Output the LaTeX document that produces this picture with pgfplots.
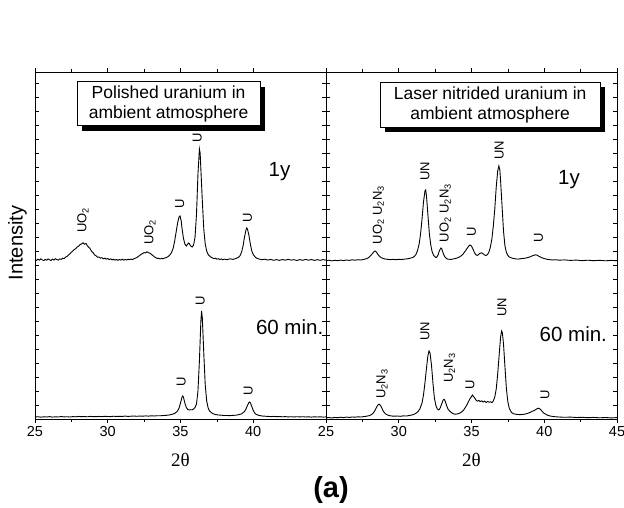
\documentclass[border=0pt]{standalone}
\usepackage{fontspec}
\setmainfont{Liberation Sans}
\newfontfamily\greekserif{Liberation Serif}
\usepackage{pgfplots}
\pgfplotsset{compat=1.18}
\usetikzlibrary{shadows}

\pgfplotsset{
  xrdaxis/.style={
    scale only axis, width=291pt, height=347pt, anchor=south west,
    xmin=25, xmax=45, ymin=0, ymax=347,
    minor x tick num=1,
    ytick={0,14,...,346}, yticklabels={},
    xtick align=outside, ytick align=inside,
    major tick length=4pt, minor tick length=2.5pt,
    axis line style={line width=0.9pt},
    every tick/.style={black, line width=0.7pt},
    /pgf/number format/assume math mode=true,
    xticklabel style={font=\fontsize{14.5}{16}\selectfont},
    xlabel={\greekserif 2θ},
    xlabel style={font=\fontsize{19}{21}\selectfont, at={(axis description cs:0.5,0)}, anchor=center, yshift=-41pt},
    clip=false,
  },
  curve/.style={black, line width=0.9pt, no marks},
}
\tikzset{
  pk/.style={rotate=90, font=\fontsize{13}{15}\selectfont, inner sep=0pt},
  big/.style={font=\fontsize{20.5}{22}\selectfont, inner sep=0pt},
  box/.style={draw=black, fill=white, line width=0.9pt, align=center, inner sep=0pt,
    font=\fontsize{17.5}{20}\selectfont,
    drop shadow={shadow xshift=5pt, shadow yshift=-5pt, fill=black, opacity=1}},
}

\begin{document}
\begin{tikzpicture}
\path[use as bounding box] (0,0) rectangle (624pt,507pt);

% ---------------- Left panel: polished uranium ----------------
\begin{axis}[xrdaxis, at={(35pt,88pt)}, xtick={25,30,35,40}]
% 60 min
\addplot[curve] coordinates {
(25,2.0)(25.2,2.3)(25.4,1.8)(25.6,2.2)(25.8,2.0)(26,2.4)(26.2,1.9)(26.4,2.2)(26.6,2.0)(26.8,2.5)
(27,2.1)(27.2,2.3)(27.4,2.0)(27.6,2.4)(27.8,2.2)(28,2.6)(28.2,2.3)(28.4,2.5)(28.6,2.2)(28.8,2.6)
(29,2.4)(29.2,2.3)(29.4,2.6)(29.6,2.4)(29.8,2.7)(30,2.5)(30.2,2.4)(30.4,2.8)(30.6,2.5)(30.8,2.7)
(31,2.6)(31.2,2.9)(31.4,2.6)(31.6,2.8)(31.8,3.0)(32,2.7)(32.2,3.0)(32.4,2.8)(32.6,3.1)(32.8,2.9)
(33,3.2)(33.2,3.0)(33.4,3.3)(33.6,3.2)(33.8,3.5)(34,3.6)(34.2,4.0)(34.4,4.6)(34.6,5.5)(34.8,8)
(34.9,11)(35,16)(35.1,21.5)(35.15,23)(35.2,22)(35.3,16)(35.4,11.5)(35.5,9.5)(35.6,9)(35.7,9.3)
(35.8,9.2)(35.9,10)(36,11.5)(36.1,15)(36.2,28)(36.3,58)(36.4,98)(36.45,108)(36.5,101)(36.6,66)
(36.7,34)(36.8,18)(36.9,11)(37,8)(37.2,5.5)(37.4,4.5)(37.6,4)(37.8,3.8)(38,3.5)(38.2,3.5)
(38.4,3.4)(38.6,3.6)(38.8,3.8)(39,4.3)(39.2,5.2)(39.4,7.5)(39.5,10)(39.6,13.5)(39.7,16.5)(39.75,17)
(39.8,16.3)(39.9,12.5)(40,8.5)(40.1,6)(40.2,4.6)(40.4,3.6)(40.6,3)(40.8,2.8)(41,2.6)(41.2,2.4)
(41.4,2.6)(41.6,2.3)(41.8,2.5)(42,2.2)(42.2,2.4)(42.4,2.1)(42.6,2.3)(42.8,2.0)(43,2.3)(43.2,2.1)
(43.4,2.3)(43.6,2.0)(43.8,2.2)(44,1.9)(44.2,2.2)(44.4,2.0)(44.6,2.2)(44.8,1.9)(45,2.1)
};
% 1 year
\addplot[curve] coordinates {
(25,159.5)(25.1,158.6)(25.2,159.8)(25.3,158.9)(25.4,160.2)(25.5,159.1)(25.6,158.4)(25.7,159.6)(25.8,158.8)(25.9,160.0)
(26.0,159.2)(26.1,158.5)(26.2,159.9)(26.3,159.0)(26.4,160.3)(26.5,159.4)(26.6,158.9)(26.7,160.1)(26.8,159.6)(26.9,160.8)
(27.0,160.4)(27.1,161.8)(27.2,162.5)(27.3,164.0)(27.4,165.2)(27.5,166.8)(27.6,168.0)(27.7,169.5)(27.8,170.3)(27.9,172.0)
(28.0,172.8)(28.1,174.5)(28.2,175.0)(28.3,176.3)(28.4,174.8)(28.5,175.6)(28.6,173.2)(28.7,171.8)(28.8,170.0)(28.9,167.5)
(29.0,166.2)(29.1,164.0)(29.2,163.2)(29.3,161.8)(29.4,162.0)(29.5,160.8)(29.6,161.3)(29.7,160.2)(29.8,160.9)(29.9,159.8)
(30.0,160.5)(30.1,159.4)(30.2,160.2)(30.3,159.1)(30.4,159.8)(30.5,158.8)(30.6,159.6)(30.7,158.7)(30.8,159.5)(30.9,158.9)
(31.0,159.9)(31.1,158.8)(31.2,159.6)(31.3,159.0)(31.4,159.8)(31.5,159.3)(31.6,160.0)(31.7,159.4)(31.8,160.3)(31.9,160.8)
(32.0,161.5)(32.1,162.6)(32.2,163.5)(32.3,164.8)(32.4,165.5)(32.5,166.4)(32.6,166.0)(32.7,167.2)(32.8,166.3)(32.9,165.8)
(33.0,164.6)(33.1,163.5)(33.2,162.2)(33.3,161.4)(33.4,160.5)(33.5,160.8)(33.6,160.0)(33.7,160.6)(33.8,160.2)(33.9,161.0)
(34.0,161.3)(34.1,162.0)(34.2,163.0)(34.3,164.5)(34.4,167)(34.5,171)(34.6,178)(34.7,187)(34.8,196)(34.9,202)
(34.97,203)(35.05,198)(35.1,191)(35.2,181)(35.3,175)(35.4,173)(35.5,175)(35.55,176)(35.6,175.5)(35.7,173)
(35.8,172)(35.9,174)(36.0,182)(36.1,205)(36.2,245)(36.3,270)(36.35,266)(36.4,250)(36.5,218)(36.6,190)
(36.7,175)(36.8,168)(36.9,164.5)(37.0,163)(37.1,161.8)(37.2,161.0)(37.3,160.4)(37.4,160.8)(37.5,159.9)(37.6,160.3)
(37.7,159.5)(37.8,160.1)(37.9,159.2)(38.0,159.9)(38.2,159.3)(38.4,160.2)(38.6,159.6)(38.8,160.5)(39.0,161.8)(39.1,163.5)
(39.2,167)(39.3,173)(39.4,182)(39.5,189)(39.55,191)(39.6,190)(39.7,184)(39.8,175)(39.9,168)(40.0,164.5)
(40.1,162.5)(40.2,161.2)(40.3,160.4)(40.4,160.0)(40.6,159.3)(40.8,159.8)(41.0,158.9)(41.2,159.6)(41.4,158.7)(41.6,159.4)
(41.8,158.6)(42.0,159.5)(42.2,158.8)(42.4,159.7)(42.6,158.9)(42.8,159.3)(43.0,158.5)(43.2,159.4)(43.4,158.7)(43.6,159.6)
(43.8,158.8)(44.0,159.5)(44.2,158.6)(44.4,159.3)(44.6,158.7)(44.8,159.4)(45.0,158.9)
};
% annotations
\node[rotate=90, font=\fontsize{20}{22}\selectfont, inner sep=0pt] at (rel axis cs:-0.0601,0.507) {Intensity};
\node[box, minimum width=183pt, minimum height=44pt] at (rel axis cs:0.459,0.908) {Polished uranium in\\ambient atmosphere};
\node[pk] at (axis cs:28.3,199) {UO\textsubscript{2}};
\node[pk] at (axis cs:32.9,187) {UO\textsubscript{2}};
\node[pk] at (axis cs:34.95,215) {U};
\node[pk] at (axis cs:36.15,281) {U};
\node[pk] at (axis cs:39.6,201) {U};
\node[pk] at (axis cs:35.05,37) {U};
\node[pk] at (axis cs:36.35,118) {U};
\node[pk] at (axis cs:39.65,28) {U};
\node[big] at (axis cs:41.8,247) {1y};
\node[big] at (axis cs:42.5,92) {60 min.};
\end{axis}

% ---------------- Right panel: laser nitrided uranium ----------------
\begin{axis}[xrdaxis, at={(326pt,88pt)}, xtick={25,30,35,40,45}]
% 60 min
\addplot[curve] coordinates {
(25,1.2)(25.2,1.5)(25.4,1.0)(25.6,1.6)(25.8,1.3)(26.0,1.8)(26.2,1.4)(26.4,1.9)(26.6,1.6)(26.8,2.0)
(27.0,1.8)(27.2,2.2)(27.4,2.0)(27.6,2.4)(27.8,2.8)(28.0,3.5)(28.1,4.2)(28.2,5.3)(28.3,7)(28.4,9.5)
(28.5,12.5)(28.6,14.5)(28.66,14.8)(28.75,13.5)(28.85,10.5)(28.95,7.5)(29.1,5)(29.3,3.6)(29.5,3.0)(29.7,2.8)
(29.9,3.0)(30.1,2.7)(30.3,3.1)(30.5,3.0)(30.7,3.4)(30.9,4.0)(31.1,5.0)(31.3,7)(31.45,10)(31.6,16)
(31.7,24)(31.8,36)(31.9,50)(32.0,63)(32.08,68)(32.15,66)(32.25,54)(32.35,36)(32.45,21)(32.55,13.5)
(32.65,10)(32.75,9)(32.85,11)(32.95,15)(33.05,19)(33.12,19.7)(33.2,17.5)(33.3,13)(33.4,9.5)(33.55,7.2)
(33.7,5.6)(33.85,4.8)(34.0,5.0)(34.15,5.6)(34.3,6.8)(34.45,8.8)(34.6,12)(34.75,16)(34.9,20.5)(35.0,22.5)
(35.06,24)(35.12,22.8)(35.2,21.5)(35.3,19)(35.4,17.8)(35.5,18.6)(35.6,17.4)(35.7,18.2)(35.8,17.0)(35.9,17.8)
(36.0,16.6)(36.1,17.5)(36.2,16.8)(36.3,17.2)(36.4,16.4)(36.5,18)(36.6,22)(36.7,30)(36.8,45)(36.9,64)
(37.0,82)(37.07,88)(37.12,86.5)(37.2,75)(37.3,52)(37.4,30)(37.5,17)(37.6,10.5)(37.75,6.5)(37.9,5.2)
(38.1,4.6)(38.3,4.4)(38.5,4.5)(38.7,5.0)(38.9,5.8)(39.05,6.8)(39.2,7.8)(39.3,8.4)(39.4,9.3)(39.5,10.2)
(39.6,10.8)(39.7,10.2)(39.8,8.6)(39.9,7)(40.0,5.6)(40.2,4.0)(40.4,3.0)(40.6,2.5)(40.8,2.2)(41.0,2.0)
(41.4,1.7)(41.8,1.9)(42.2,1.5)(42.6,1.7)(43.0,1.3)(43.4,1.6)(43.8,1.2)(44.2,1.5)(44.6,1.1)(45.0,1.4)
};
% 1 year
\addplot[curve] coordinates {
(25,158.2)(25.2,158.8)(25.4,158.1)(25.6,158.7)(25.8,158.3)(26.0,158.9)(26.2,158.4)(26.4,159.0)(26.6,158.6)(26.8,159.2)
(27.0,158.8)(27.2,159.3)(27.4,159.0)(27.6,159.6)(27.8,160.4)(27.9,161.2)(28.0,162.3)(28.1,163.8)(28.2,165.6)(28.3,167.3)
(28.37,168)(28.45,167.2)(28.55,165)(28.65,163)(28.8,161.3)(29.0,160.2)(29.2,159.7)(29.4,159.4)(29.6,159.6)(29.8,159.3)
(30.0,159.7)(30.2,159.5)(30.4,159.9)(30.6,160.2)(30.8,160.8)(31.0,161.8)(31.1,163)(31.2,165)(31.3,169)(31.4,175)
(31.5,185)(31.6,200)(31.7,217)(31.8,228)(31.85,229)(31.9,224)(32.0,205)(32.1,186)(32.2,174)(32.3,167)
(32.4,163.5)(32.5,162)(32.6,161.5)(32.7,164)(32.8,168.5)(32.9,171)(32.95,170.5)(33.0,168)(33.1,164)(33.2,161.5)
(33.3,160.3)(33.4,159.8)(33.6,159.6)(33.8,160.2)(34.0,160.9)(34.2,162.2)(34.4,164.5)(34.6,168.5)(34.8,172.8)(34.9,174)
(35.0,173)(35.1,170)(35.2,166.5)(35.3,164.2)(35.4,163.5)(35.5,164.8)(35.6,165.8)(35.7,166.2)(35.8,165.2)(35.9,164)
(36.0,163.5)(36.1,164.5)(36.2,167)(36.3,172)(36.4,180)(36.5,193)(36.6,210)(36.7,232)(36.8,248)(36.88,253)
(36.95,249)(37.0,238)(37.1,213)(37.2,188)(37.3,173)(37.4,166.5)(37.5,163.5)(37.6,162)(37.8,160.8)(38.0,160.2)
(38.2,159.9)(38.4,160.3)(38.6,160.6)(38.8,161.2)(39.0,162)(39.2,163.3)(39.4,164.2)(39.5,163.9)(39.6,163.0)(39.8,161.5)
(40.0,160.4)(40.2,159.7)(40.4,159.3)(40.6,159.0)(40.8,159.3)(41.0,158.8)(41.4,159.1)(41.8,158.6)(42.2,158.9)(42.6,158.4)
(43.0,158.8)(43.4,158.3)(43.8,158.7)(44.2,158.2)(44.6,158.6)(45.0,158.3)
};
\node[box, minimum width=220pt, minimum height=45pt] at (rel axis cs:0.564,0.906) {Laser nitrided uranium in\\ambient atmosphere};
\node[pk] at (axis cs:28.6,204) {UO\textsubscript{2} U\textsubscript{2}N\textsubscript{3}};
\node[pk] at (axis cs:31.8,248) {UN};
\node[pk] at (axis cs:33.2,206) {UO\textsubscript{2} U\textsubscript{2}N\textsubscript{3}};
\node[pk] at (axis cs:35.0,187) {U};
\node[pk] at (axis cs:36.9,269) {UN};
\node[pk] at (axis cs:39.6,181) {U};
\node[pk] at (axis cs:28.85,35) {U\textsubscript{2}N\textsubscript{3}};
\node[pk] at (axis cs:31.8,88) {UN};
\node[pk] at (axis cs:33.5,51) {U\textsubscript{2}N\textsubscript{3}};
\node[pk] at (axis cs:34.9,34) {U};
\node[pk] at (axis cs:37.1,112) {UN};
\node[pk] at (axis cs:40.05,24) {U};
\node[big] at (axis cs:41.7,239) {1y};
\node[big] at (axis cs:42.0,85) {60 min.};
\end{axis}

\node[font=\fontsize{29}{31}\selectfont\bfseries] at (331pt,17pt) {(a)};
\end{tikzpicture}
\end{document}
